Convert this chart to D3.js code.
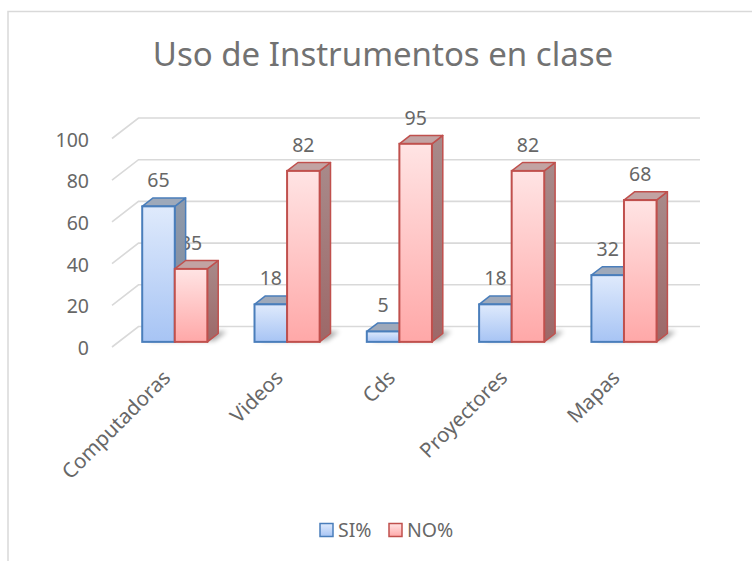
<!doctype html>
<html lang="es">
<head>
<meta charset="utf-8">
<title>Uso de Instrumentos en clase</title>
<style>
body { margin: 0; background: #fff; }
svg text { font-family: "Noto Sans", sans-serif; fill: #676767; }
</style>
</head>
<body>
<svg id="chart" width="752" height="561"></svg>
<script src="https://cdn.jsdelivr.net/npm/d3@7"></script>
<script>
var categories = ["Computadoras", "Videos", "Cds", "Proyectores", "Mapas"];
var seriesNames = ["SI%", "NO%"];
var siValues = [65, 18, 5, 18, 32];
var noValues = [35, 82, 95, 82, 68];
var yTicks = [0, 20, 40, 60, 80, 100];

var svg = d3.select("#chart");

// oblique 3d: depth 0 = front plane, 1 = back wall
var DX = 26.5, DY = -20.5;
var x = d3.scaleBand().domain(categories).range([112, 673.5])
    .paddingInner(0.42).paddingOuter(0.21);
var xs = d3.scaleBand().domain(seriesNames).range([0, x.bandwidth()]);
var y = d3.scaleLinear().domain([0, 100]).range([347, 138.5]);

function P(px, v, d) { return [px + d * DX, y(v) + d * DY]; }

var series = [
  { name: "SI%", values: siValues, stroke: "#4a7ebb", top: "#9ea9ba", side: ["#8f9aab", "#7c889b"], grad: ["#dfeafc", "#a7c4f4"] },
  { name: "NO%", values: noValues, stroke: "#c0504d", top: "#c2a3a3", side: ["#a88a8a", "#9d6868"], grad: ["#ffe4e4", "#ffa8a8"] }
];

var defs = svg.append("defs");
series.forEach(function(s, i) {
  var g = defs.append("linearGradient").attr("id", "front" + i)
      .attr("x1", 0).attr("y1", 0).attr("x2", 0).attr("y2", 1);
  g.append("stop").attr("offset", "0%").attr("stop-color", s.grad[0]);
  g.append("stop").attr("offset", "100%").attr("stop-color", s.grad[1]);
  var g2 = defs.append("linearGradient").attr("id", "side" + i)
      .attr("x1", 0).attr("y1", 0).attr("x2", 0).attr("y2", 1);
  g2.append("stop").attr("offset", "0%").attr("stop-color", s.side[0]);
  g2.append("stop").attr("offset", "100%").attr("stop-color", s.side[1]);
});
defs.append("filter").attr("id", "blur").attr("x", "-50%").attr("y", "-50%")
    .attr("width", "200%").attr("height", "200%")
  .append("feGaussianBlur").attr("stdDeviation", 2.5);

// outer border
svg.append("path").attr("d", "M8,561 V11.5 H752")
    .attr("fill", "none").attr("stroke", "#d9d9d9").attr("stroke-width", 1.5);

// title
svg.append("text").attr("x", 383).attr("y", 66).attr("text-anchor", "middle")
    .style("font-size", "33px").style("fill", "#727272").text("Uso de Instrumentos en clase");

// gridlines: floor edge + back wall
var x0 = x.range()[0], x1 = x.range()[1];
var grid = svg.append("g");
yTicks.forEach(function(t) {
  var a = P(x0, t, 0), b = P(x0, t, 1), c = P(x1, t, 1);
  grid.append("path").attr("d", "M" + a + "L" + b + "L" + c)
      .attr("fill", "none").attr("stroke", "#d9d9d9").attr("stroke-width", 1.6);
});

// y axis labels
svg.append("g").selectAll("text").data(yTicks).join("text")
    .attr("x", 89).attr("y", function(d) { return y(d) + 8; })
    .attr("text-anchor", "end").style("font-size", "19.5px")
    .text(function(d) { return d; });

// category labels
svg.append("g").selectAll("text").data(categories).join("text")
    .attr("text-anchor", "end").style("font-size", "20.5px")
    .attr("transform", function(d) {
      var cx = x(d) + x.bandwidth() / 2 + 0.25 * DX - 3;
      return "translate(" + cx + ",379) rotate(-45)";
    })
    .text(function(d) { return d; });

var d0 = 0.25, d1 = 0.66;

// value labels (drawn under bars, the 35 is partly hidden in the original)
series.forEach(function(s, i) {
  svg.append("g").selectAll("text").data(s.values).join("text")
      .attr("x", function(v, j) { return x(categories[j]) + xs(s.name) + xs.bandwidth() / 2 + d0 * DX; })
      .attr("y", function(v) { return y(v) + d0 * DY - 19; })
      .attr("text-anchor", "middle").style("font-size", "19.5px")
      .text(function(v) { return v; });
});

// bars
var bars = svg.append("g");
categories.forEach(function(c, j) {
  series.forEach(function(s, i) {
    var v = s.values[j];
    var bx0 = x(c) + xs(s.name), bx1 = bx0 + xs.bandwidth();
    var g = bars.append("g");
    // soft floor shadow
    var sh = [P(bx0 + 4, 0, d0 + 0.05), P(bx1 + 6, 0, d0 + 0.05), P(bx1 + 6, 0, d1 + 0.1), P(bx0 + 4, 0, d1 + 0.1)];
    g.append("polygon").attr("points", sh.join(" "))
        .attr("fill", "#000").attr("opacity", 0.35).attr("filter", "url(#blur)");
    var side = [P(bx1, v, d0), P(bx1, v, d1), P(bx1, 0, d1), P(bx1, 0, d0)];
    g.append("polygon").attr("points", side.join(" "))
        .attr("fill", "url(#side" + i + ")").attr("stroke", s.stroke)
        .attr("stroke-width", 1.5).attr("stroke-linejoin", "round");
    var top = [P(bx0, v, d0), P(bx1, v, d0), P(bx1, v, d1), P(bx0, v, d1)];
    g.append("polygon").attr("points", top.join(" "))
        .attr("fill", s.top).attr("stroke", s.stroke)
        .attr("stroke-width", 1.5).attr("stroke-linejoin", "round");
    var f0 = P(bx0, v, d0), f1 = P(bx1, 0, d0);
    g.append("rect").attr("x", f0[0]).attr("y", f0[1])
        .attr("width", f1[0] - f0[0]).attr("height", f1[1] - f0[1])
        .attr("fill", "url(#front" + i + ")").attr("stroke", s.stroke)
        .attr("stroke-width", 2);
  });
});

// legend
var legend = svg.append("g");
var lx = [320, 389];
series.forEach(function(s, i) {
  legend.append("rect").attr("x", lx[i]).attr("y", 523.5).attr("width", 13).attr("height", 13)
      .attr("fill", "url(#front" + i + ")").attr("stroke", s.stroke).attr("stroke-width", 1.5);
  legend.append("text").attr("x", lx[i] + 18).attr("y", 537).style("font-size", "19.5px")
      .text(s.name);
});
</script>
</body>
</html>
